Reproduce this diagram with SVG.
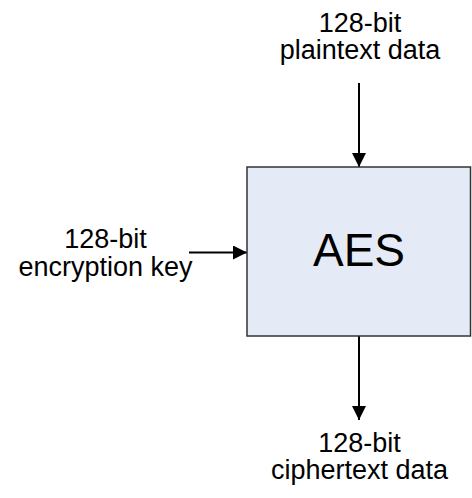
<svg xmlns="http://www.w3.org/2000/svg" width="472" height="498" viewBox="0 0 472 498">
  <style>
    .lbl { font-family: "Liberation Sans", Arial, sans-serif; font-size: 27px; fill: #000; text-anchor: middle; }
    .big { font-family: "Liberation Sans", Arial, sans-serif; font-size: 46px; fill: #000; text-anchor: middle; }
    .wire { stroke: #000; stroke-width: 2; fill: none; marker-end: url(#head); }
  </style>
  <defs>
    <marker id="head" viewBox="0 0 14 14" refX="14" refY="7" markerWidth="14" markerHeight="14" markerUnits="userSpaceOnUse" orient="auto">
      <path d="M0,0 L14,7 L0,14 Z" fill="#000"/>
    </marker>
  </defs>
  <rect width="472" height="498" fill="#fff"/>

  <g id="connectors">
    <line class="wire" x1="359" y1="83" x2="359" y2="167"/>
    <line class="wire" x1="189" y1="252.5" x2="247" y2="252.5"/>
    <line class="wire" x1="359" y1="336" x2="359" y2="420"/>
  </g>

  <g id="aes">
    <rect x="247" y="167" width="223.5" height="169" fill="#e5ebf6" stroke="#333" stroke-width="1.5"/>
    <text class="big" x="359" y="266">AES</text>
  </g>

  <g id="plaintext">
    <text class="lbl" x="360" y="32">128-bit</text>
    <text class="lbl" x="360" y="58.5">plaintext data</text>
  </g>

  <g id="key">
    <text class="lbl" x="105.5" y="247.5">128-bit</text>
    <text class="lbl" x="105.5" y="276">encryption key</text>
  </g>

  <g id="ciphertext">
    <text class="lbl" x="359.5" y="452">128-bit</text>
    <text class="lbl" x="359.5" y="478.5">ciphertext data</text>
  </g>
</svg>
